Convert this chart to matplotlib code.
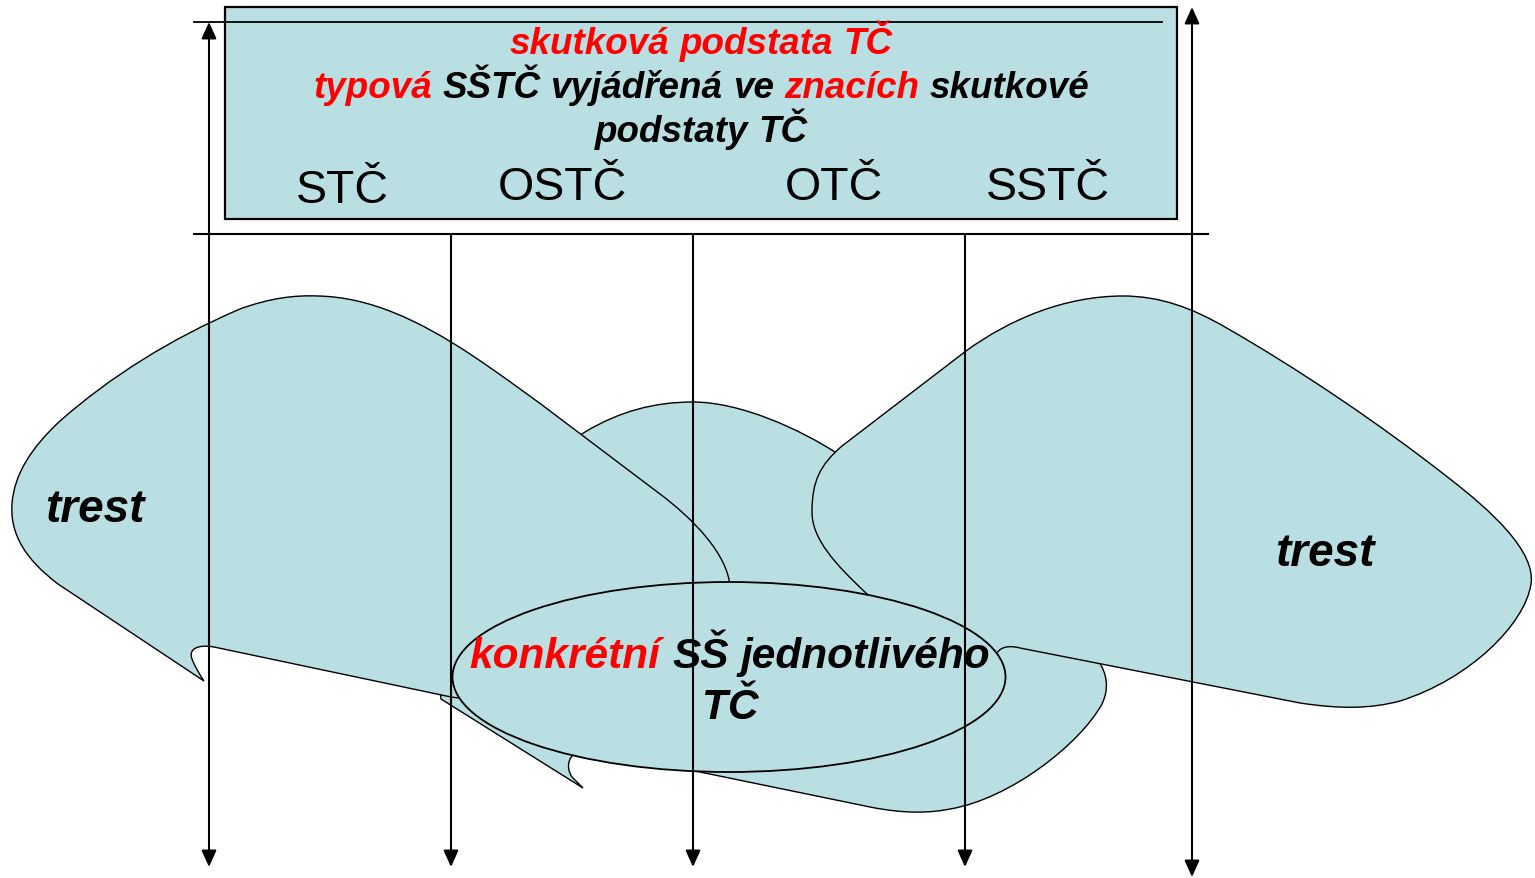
import matplotlib
matplotlib.use("Agg")
import matplotlib.pyplot as plt
from matplotlib.path import Path
from matplotlib.patches import PathPatch, Ellipse, Rectangle, FancyArrowPatch

plt.rcParams["font.family"] = ["Liberation Sans", "DejaVu Sans"]

FILL = "#B9DFE3"

# Texts of the diagram
header_lines = [
    [("skutková", "red"), ("podstata", "red"), ("TČ", "red")],
    [("typová", "red"), ("SŠTČ", "black"), ("vyjádřená", "black"), ("ve", "black"),
     ("znacích", "red"), ("skutkové", "black")],
    [("podstaty", "black"), ("TČ", "black")],
]
header_baselines = [54, 98, 142]

abbreviations = ["STČ", "OSTČ", "OTČ", "SSTČ"]
abbr_x = [342, 562, 834, 1048]
abbr_baselines = [203, 200, 200, 200]

trest_labels = ["trest", "trest"]
trest_x = [95, 1325]
trest_baselines = [522, 566]

concrete_lines = [
    [("konkrétní", "red"), ("SŠ", "black"), ("jednotlivého", "black")],
    [("TČ", "black")],
]
concrete_baselines = [668, 719]

# Arrows: x, top, bottom, double headed
arrow_x = [209, 451, 693, 965, 1192]
arrow_top = [23, 235, 235, 235, 8]
arrow_bottom = [868, 868, 868, 868, 878]
arrow_double = [True, False, False, False, True]

# Shape outlines (pixel coordinates)
left_cloud = [
    ("M", (204, 682)),
    ("L", (58, 585)),
    ("C", (25, 560), (10, 535), (12, 505)),
    ("C", (14, 475), (32, 448), (60, 422)),
    ("C", (110, 378), (170, 340), (240, 310)),
    ("C", (270, 299), (295, 296), (318, 297)),
    ("C", (370, 298), (420, 322), (470, 355)),
    ("C", (533, 397), (597, 448), (660, 495)),
    ("C", (692, 519), (728, 555), (730, 588)),
    ("L", (620, 720)),
    ("L", (451, 698)),
    ("L", (214, 648)),
    ("C", (198, 645), (188, 650), (192, 660)),
    ("C", (195, 668), (200, 676), (204, 682)),
]
middle_cloud = [
    ("M", (583, 789)),
    ("L", (441, 700)),
    ("L", (430, 600)),
    ("L", (560, 450)),
    ("L", (585, 433)),
    ("C", (620, 412), (655, 403), (693, 403)),
    ("C", (740, 403), (800, 430), (838, 455)),
    ("L", (950, 560)),
    ("L", (1097, 660)),
    ("C", (1108, 675), (1109, 690), (1102, 705)),
    ("C", (1080, 745), (1010, 800), (950, 810)),
    ("C", (930, 814), (905, 815), (870, 808)),
    ("L", (700, 773)),
    ("L", (585, 752)),
    ("C", (568, 752), (565, 768), (572, 778)),
]
right_cloud = [
    ("M", (995, 683)),
    ("L", (867, 595)),
    ("C", (835, 565), (812, 540), (812, 513)),
    ("C", (812, 482), (820, 466), (842, 447)),
    ("L", (966, 352)),
    ("C", (1010, 320), (1065, 297), (1123, 297)),
    ("C", (1160, 297), (1192, 309), (1225, 328)),
    ("C", (1300, 371), (1380, 425), (1450, 480)),
    ("C", (1490, 511), (1536, 552), (1531, 585)),
    ("C", (1525, 625), (1470, 680), (1400, 702)),
    ("C", (1370, 710), (1340, 710), (1300, 704)),
    ("L", (1020, 649)),
    ("C", (1005, 645), (995, 650), (995, 662)),
]


def outline(segs):
    verts, codes = [], []
    for seg in segs:
        kind, pts = seg[0], seg[1:]
        if kind == "M":
            verts.append(pts[0]); codes.append(Path.MOVETO)
        elif kind == "L":
            verts.append(pts[0]); codes.append(Path.LINETO)
        else:
            verts += list(pts); codes += [Path.CURVE4] * 3
    verts.append(verts[0]); codes.append(Path.CLOSEPOLY)
    return Path(verts, codes)


fig = plt.figure(figsize=(15.35, 8.79), dpi=100)
ax = fig.add_axes([0, 0, 1, 1])
ax.set_xlim(0, 1535)
ax.set_ylim(879, 0)
ax.axis("off")

# shapes
ax.add_patch(PathPatch(outline(middle_cloud), fc=FILL, ec="black", lw=1.0, zorder=1))
ax.add_patch(PathPatch(outline(left_cloud), fc=FILL, ec="black", lw=1.0, zorder=2))
ax.add_patch(PathPatch(outline(right_cloud), fc=FILL, ec="black", lw=1.0, zorder=2))
ax.add_patch(Ellipse((729, 678), 553, 190, fc=FILL, ec="black", lw=1.3, zorder=3))
ax.add_patch(Rectangle((225, 8), 952, 212, fc=FILL, ec="black", lw=1.6, zorder=3))

# horizontal lines
ax.plot([194, 1162], [23, 23], color="black", lw=1.3, zorder=4)
ax.plot([194, 1208], [235, 235], color="black", lw=1.5, zorder=4)

# vertical arrows
for x, y0, y1, dbl in zip(arrow_x, arrow_top, arrow_bottom, arrow_double):
    style = "<|-|>" if dbl else "-|>"
    ax.add_patch(FancyArrowPatch((x, y0), (x, y1),
                                 arrowstyle=style + ",head_length=1.0,head_width=0.45",
                                 mutation_scale=10, shrinkA=0, shrinkB=0,
                                 lw=1.5, color="black", zorder=4))

renderer = fig.canvas.get_renderer()


def rich_line(words, xc, y, size):
    kw = dict(fontsize=size, fontweight="bold", fontstyle="italic",
              va="baseline", ha="left", zorder=6)
    a = ax.text(0, 0, "a a", **kw)
    b = ax.text(0, 0, "aa", **kw)
    space = a.get_window_extent(renderer).width - b.get_window_extent(renderer).width
    a.remove(); b.remove()
    items = [ax.text(0, y, w, color=c, **kw) for w, c in words]
    widths = [t.get_window_extent(renderer).width for t in items]
    x = xc - (sum(widths) + space * (len(items) - 1)) / 2
    for t, w in zip(items, widths):
        t.set_x(x)
        x += w + space


for words, yb in zip(header_lines, header_baselines):
    rich_line(words, 701, yb, 26.5)

for words, yb in zip(concrete_lines, concrete_baselines):
    rich_line(words, 730, yb, 30.5)

for lab, x, yb in zip(abbreviations, abbr_x, abbr_baselines):
    ax.text(x, yb, lab, fontsize=33.5, ha="center", va="baseline", zorder=6)

for lab, x, yb in zip(trest_labels, trest_x, trest_baselines):
    ax.text(x, yb, lab, fontsize=33, fontweight="bold", fontstyle="italic",
            ha="center", va="baseline", zorder=6)

fig.savefig("out.png", dpi=100)
